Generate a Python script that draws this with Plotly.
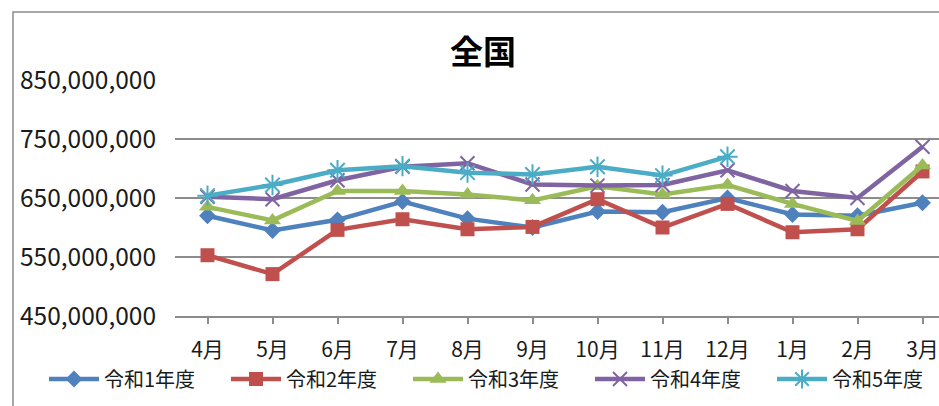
import plotly.graph_objects as go

months = ["4月", "5月", "6月", "7月", "8月", "9月", "10月", "11月", "12月", "1月", "2月", "3月"]
r1 = [620e6, 595e6, 613e6, 644e6, 615e6, 600e6, 627e6, 626e6, 650e6, 622e6, 620e6, 642e6]
r2 = [553e6, 521e6, 596e6, 614e6, 597e6, 601e6, 648e6, 600e6, 640e6, 592e6, 597e6, 695e6]
r3 = [635e6, 612e6, 662e6, 662e6, 656e6, 646e6, 670e6, 656e6, 672e6, 640e6, 611e6, 705e6]
r4 = [652e6, 648e6, 680e6, 703e6, 709e6, 673e6, 671e6, 672e6, 697e6, 662e6, 650e6, 737e6]
r5 = [654e6, 672e6, 697e6, 704e6, 693e6, 690e6, 703e6, 688e6, 720e6, None, None, None]
names = ["令和1年度", "令和2年度", "令和3年度", "令和4年度", "令和5年度"]
y_ticks = [450e6, 550e6, 650e6, 750e6, 850e6]
y_labels = ["450,000,000", "550,000,000", "650,000,000", "750,000,000", "850,000,000"]

colors = ["#4F81BD", "#C0504D", "#9BBB59", "#8064A2", "#4BACC6"]
symbols = ["diamond", "square", "triangle-up", "x-thin", "asterisk"]
sizes = [13, 14, 15, 14, 17]
series = [r1, r2, r3, r4, r5]

FONT = "Noto Sans CJK JP"
# The reference chart is wider than the window and is clipped at the right edge
W, H = 960, 406
L, R, T, B = 175, 5, 80, 90
pw = W - L - R
ph = H - T - B

fig = go.Figure()
for name, vals, c, s, sz in zip(names, series, colors, symbols, sizes):
    open_sym = s in ("x-thin", "asterisk")
    fig.add_trace(go.Scatter(
        x=list(range(len(months))), y=vals, name=name, mode="lines+markers",
        line=dict(color=c, width=4.5),
        marker=dict(symbol=s, size=sz, color=c,
                    line=dict(color=c, width=2 if open_sym else 0)),
        connectgaps=False,
    ))

def px_x(p):
    return (p - L) / pw

def px_y(p):
    return (H - B - p) / ph

fig.add_shape(type="path", xref="paper", yref="paper",
              path=f"M {px_x(13)} {px_y(430)} L {px_x(13)} {px_y(12)} L {px_x(W)} {px_y(12)}",
              line=dict(color="#8c8c8c", width=1.5))

fig.update_layout(
    width=W, height=H,
    margin=dict(l=L, r=R, t=T, b=B),
    paper_bgcolor="white", plot_bgcolor="white",
    font=dict(family=FONT, color="#1a1a1a"),
    title=dict(text="<b>全国</b>", font=dict(size=33, family=FONT, color="black"),
               xref="container", x=483 / W, xanchor="center",
               yref="container", y=1 - 52 / H, yanchor="middle"),
    showlegend=True,
    legend=dict(orientation="h", x=px_x(44), y=px_y(379), xanchor="left", yanchor="middle",
                font=dict(size=20, family=FONT), itemwidth=50,
                entrywidth=117, entrywidthmode="pixels", bgcolor="rgba(0,0,0,0)"),
    xaxis=dict(
        range=[-0.5, 11.5],
        tickmode="array", tickvals=list(range(len(months))), ticktext=months,
        showgrid=False, zeroline=False,
        showline=True, linecolor="#8c8c8c", linewidth=2,
        ticks="outside", tickson="boundaries", ticklen=6, tickcolor="#8c8c8c", tickwidth=1.5,
        tickfont=dict(size=21, family=FONT, color="#1a1a1a"),
        ticklabelstandoff=8,
    ),
    yaxis=dict(
        range=[450e6, 850e6],
        tickmode="array", tickvals=y_ticks, ticktext=y_labels,
        showgrid=True, gridcolor="#8c8c8c", gridwidth=1.5,
        zeroline=False, showline=False,
        tickfont=dict(size=24.5, family=FONT, color="#1a1a1a"),
        ticklabelstandoff=18,
    ),
)

fig.write_html("out.html", config={"displayModeBar": False},
               post_script="document.body.style.margin='0';document.body.style.overflow='hidden';"
                           "document.documentElement.style.overflow='hidden';")
